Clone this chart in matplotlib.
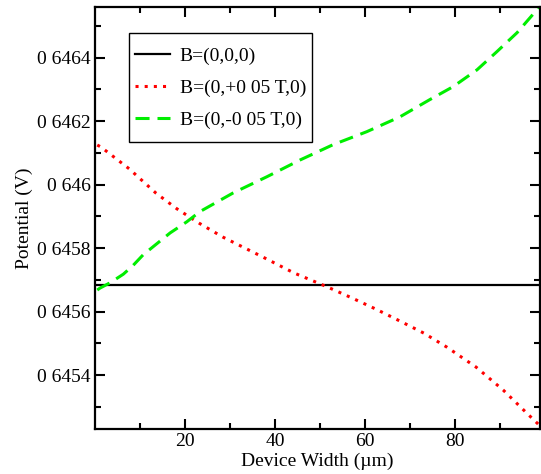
import matplotlib.pyplot as plt
from matplotlib.patches import Rectangle

plt.rcParams['font.family'] = ['Liberation Serif', 'DejaVu Serif']
plt.rcParams['font.size'] = 14

# potential across the device for the three field settings
width_zero = [0.5, 98.9]
pot_zero = [0.645684, 0.645684]

width_pos = [0.5, 1.3, 7.6, 13.5, 18.2, 23.1, 28.4, 37.3, 44.2, 51.6, 57.1,
             62.4, 67.8, 73.1, 78.2, 84.7, 90.7, 96.4, 98.9]
pot_pos = [0.646125, 0.646119, 0.646050, 0.645974, 0.645924, 0.645879,
           0.645835, 0.645772, 0.645722, 0.645678, 0.645643, 0.645608,
           0.645570, 0.645532, 0.645488, 0.645425, 0.645353, 0.645274,
           0.645240]

width_neg = [0.5, 1.1, 3.5, 6.3, 8.5, 10.7, 16.7, 20.4, 23.3, 30.7, 38.2,
             45.6, 52.9, 60.4, 67.8, 74.4, 79.6, 84.9, 89.3, 93.8, 98.2, 98.9]
pot_neg = [0.645668, 0.645674, 0.645692, 0.645718, 0.645746, 0.645779,
           0.645848, 0.645883, 0.645915, 0.645974, 0.646025, 0.646078,
           0.646126, 0.646167, 0.646214, 0.646268, 0.646309, 0.646362,
           0.646419, 0.646479, 0.646551, 0.646565]

labels = ['B=(0,0,0)', 'B=(0,+0 05 T,0)', 'B=(0,-0 05 T,0)']

y_ticks = [0.6454, 0.6456, 0.6458, 0.6460, 0.6462, 0.6464]
y_ticklabels = ['0 6454', '0 6456', '0 6458', '0 646', '0 6462', '0 6464']
y_minor = [0.6453, 0.6455, 0.6457, 0.6459, 0.6461, 0.6463, 0.6465]
x_ticks = [20, 40, 60, 80]
x_minor = [10, 30, 50, 70, 90]

fig = plt.figure(figsize=(5.41, 4.74), dpi=100)
ax = fig.add_axes([95 / 541, 1 - 429 / 474, 445 / 541, 422 / 474])

ax.plot(width_zero, pot_zero, color='black', lw=1.6, label=labels[0])
ax.plot(width_pos, pot_pos, color='#ff0000', lw=2.2,
        linestyle=(0, (1, 2.0)), label=labels[1])
ax.plot(width_neg, pot_neg, color='#00ee00', lw=2.2,
        linestyle=(0, (4.6, 2.6)), label=labels[2])

ax.set_xlim(0, 98.9)
ax.set_ylim(0.64523, 0.64656)

ax.set_xticks(x_ticks)
ax.set_xticks(x_minor, minor=True)
ax.set_yticks(y_ticks)
ax.set_yticklabels(y_ticklabels)
ax.set_yticks(y_minor, minor=True)

ax.tick_params(which='both', direction='in', top=True, right=True, width=1.5)
ax.tick_params(which='major', length=7, pad=3)
ax.tick_params(which='minor', length=4)
for sp in ax.spines.values():
    sp.set_linewidth(1.6)

ax.set_xlabel('Device Width (\u00b5m)', labelpad=2)
ax.set_ylabel('Potential (V)', labelpad=3)

# legend box
ax.add_patch(Rectangle((0.0764, 0.6801), 0.4112, 0.2583, transform=ax.transAxes,
                       facecolor='white', edgecolor='black', lw=1.0, zorder=4))
leg = ax.legend(loc='upper left', bbox_to_anchor=(0.0899, 0.905), frameon=False,
                borderpad=0, borderaxespad=0, handlelength=1.8,
                handletextpad=0.5, labelspacing=0.75)
leg.set_zorder(5)

fig.savefig('out.png', dpi=100)
